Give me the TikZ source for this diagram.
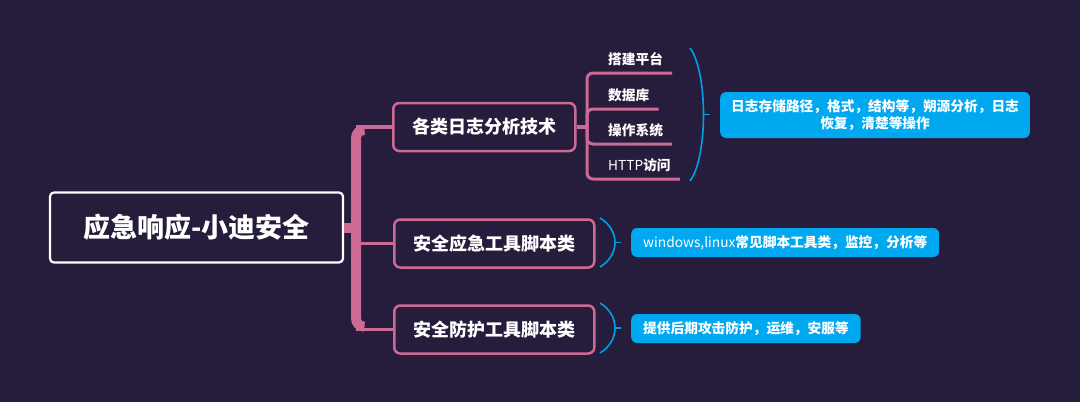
\documentclass[tikz,border=0pt]{standalone}
\usepackage{fontspec}
\setmainfont{Noto Sans CJK SC}
\definecolor{bgpurple}{RGB}{38,28,59}
\definecolor{mindpink}{RGB}{204,106,150}
\definecolor{noteblue}{RGB}{0,168,240}
\definecolor{bracketblue}{RGB}{0,160,232}
\tikzset{
  rootbox/.style={draw=white, line width=2.2pt, rounded corners=4pt, text=white,
    font=\fontsize{27}{32}\selectfont\bfseries, minimum width=293pt, minimum height=70pt},
  branchbox/.style={draw=mindpink, line width=2.5pt, rounded corners=6pt, text=white,
    font=\fontsize{18}{22}\selectfont\bfseries, minimum height=48pt, inner xsep=19pt, anchor=west},
  leafitem/.style={text=white, font=\fontsize{13.7}{16}\selectfont\bfseries, inner xsep=9pt,
    inner ysep=5pt, text height=11pt, text depth=3pt, anchor=south west},
  notebox/.style={fill=noteblue, rounded corners=6pt, text=white, font=\fontsize{13.7}{17}\selectfont\bfseries,
    minimum height=29pt, inner xsep=12pt, anchor=west},
  trunk/.style={draw=mindpink, line width=10pt},
  branch/.style={draw=mindpink, line width=3.3pt},
  leafline/.style={draw=mindpink, line width=3pt, rounded corners=6pt},
  bracket/.style={draw=bracketblue, line width=1.6pt},
}
\begin{document}
\begin{tikzpicture}[x=1pt,y=-1pt]
        \useasboundingbox (0,0) rectangle (1080,402);
        \fill[bgpurple] (0,0) rectangle (1080,402);

        % root and the three branches
        \node[rootbox] (root) at (196.5,227.5) {应急响应-小迪安全};
        \node[branchbox] (tech) at (392,127) {各类日志分析技术};
        \node[branchbox] (emerg) at (393,243.5) {安全应急工具脚本类};
        \node[branchbox] (protect) at (393,329.5) {安全防护工具脚本类};

        \coordinate (hub) at (356,227.5);
        \draw[trunk, rounded corners=8pt] (363,130) -| (hub) |- (363,326.5);
        \draw[trunk] (root.east) -- (hub);
        \draw[branch] (hub |- tech.west) -- (tech.west);
        \draw[branch] (hub |- emerg.west) -- (emerg.west);
        \draw[branch] (hub |- protect.west) -- (protect.west);

        % leaves of the first branch
        \coordinate (fork) at (587,127);
        \node[leafitem] (platform) at (599,73) {搭建平台};
        \node[leafitem] (database) at (599,109) {数据库};
        \node[leafitem] (system) at (599,144) {操作系统};
        \node[leafitem] (http) at (599,179) {{\mdseries HTTP}访问};
        \draw[branch] (tech.east) -- (fork);
        \foreach \leaf in {platform,database,system,http} {
            \draw[leafline] (fork) |- (\leaf.south east);
        }

        % brackets and notes
        \draw[bracket] (690,48) .. controls (708,72) and (708,157) .. (690,181);
        \draw[bracket] (703.5,114.5) -- (710,114.5);
        \node[notebox, align=center, minimum height=46pt, inner xsep=11pt] (logNote) at (720,115)
            {日志存储路径，格式，结构等，朔源分析，日志\\恢复，清楚等操作};

        \draw[bracket] (600,218) .. controls (620,230) and (620,255) .. (600,267);
        \draw[bracket] (615,242.5) -- (621,242.5);
        \node[notebox] (scriptNote) at (631,242.5) {{\mdseries windows,linux}常见脚本工具类，监控，分析等};

        \draw[bracket] (600,303) .. controls (620,315) and (620,341) .. (600,353);
        \draw[bracket] (615,328) -- (621,328);
        \node[notebox] (protectNote) at (631,328.5) {提供后期攻击防护，运维，安服等};

\end{tikzpicture}
\end{document}
